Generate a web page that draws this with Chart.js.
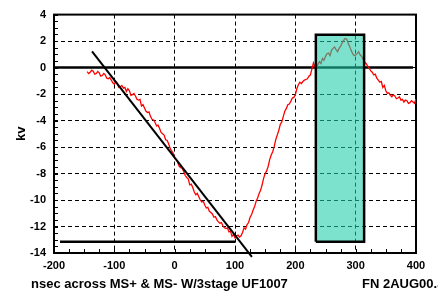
<!DOCTYPE html>
<html>
<head>
<meta charset="utf-8">
<script src="https://cdn.jsdelivr.net/npm/chart.js@4.4.1/dist/chart.umd.min.js"></script>
<style>
  html, body { margin: 0; padding: 0; background: #fff; }
  #wrap { width: 438px; height: 291px; }
</style>
</head>
<body>
<div id="wrap"><canvas id="kvChart" width="438" height="291"></canvas></div>
<script>
// waveform (nsec, kV)
var nsec = [
  -145,-142.5,-140,-137.5,-135,-132.5,-130,-127.5,-125,-122.5,-120,-117.5,-115,-112.5,-110,-107.5,-105,-102.5,-100,-97.5,
  -95,-92.5,-90,-87.5,-85,-82.5,-80,-77.5,-75,-72.5,-70,-67.5,-65,-62.5,-60,-57.5,-55,-52.5,-50,-47.5,
  -45,-42.5,-40,-37.5,-35,-32.5,-30,-27.5,-25,-22.5,-20,-17.5,-15,-12.5,-10,-7.5,-5,-2.5,0,2.5,
  5,7.5,10,12.5,15,17.5,20,22.5,25,27.5,30,32.5,35,37.5,40,42.5,45,47.5,50,52.5,
  55,57.5,60,62.5,65,67.5,70,72.5,75,77.5,80,82.5,85,87.5,90,92.5,95,97.5,100,102.5,
  105,107.5,110,112.5,115,117.5,120,122.5,125,127.5,130,132.5,135,137.5,140,142.5,145,147.5,150,152.5,
  155,157.5,160,162.5,165,167.5,170,172.5,175,177.5,180,182.5,185,187.5,190,192.5,195,197.5,200,202.5,
  205,207.5,210,212.5,215,217.5,220,222.5,225,227.5,230,232.5,235,237.5,240,242.5,245,247.5,250,252.5,
  255,257.5,260,262.5,265,267.5,270,272.5,275,277.5,280,282.5,285,287.5,290,292.5,295,297.5,300,302.5,
  305,307.5,310,312.5,315,317.5,320,322.5,325,327.5,330,332.5,335,337.5,340,342.5,345,347.5,350,352.5,
  355,357.5,360,362.5,365,367.5,370,372.5,375,377.5,380,382.5,385,387.5,390,392.5,395,397.5,400];
var kv = [
  -0.30,-0.45,-0.35,-0.20,-0.28,-0.50,-0.45,-0.30,-0.40,-0.65,-0.60,-0.45,-0.55,-0.80,-0.85,-0.75,-0.95,-1.15,-1.25,-1.05,
  -1.20,-1.50,-1.45,-1.35,-1.55,-1.50,-1.80,-1.60,-1.75,-2.10,-2.05,-1.95,-2.15,-2.40,-2.45,-2.40,-2.90,-2.80,-3.05,-3.30,
  -3.40,-3.35,-3.70,-3.90,-3.95,-4.15,-4.40,-4.35,-4.60,-4.90,-5.00,-5.10,-5.45,-5.50,-5.75,-6.10,-6.30,-6.45,-6.85,-6.95,
  -7.15,-7.45,-7.55,-7.60,-7.85,-8.15,-8.30,-8.40,-8.85,-8.80,-9.05,-9.40,-9.60,-9.50,-9.75,-10.00,-10.15,-10.10,-10.40,-10.60,
  -10.55,-10.85,-10.95,-11.05,-11.30,-11.25,-11.50,-11.65,-11.75,-11.70,-11.95,-12.10,-12.15,-12.10,-12.40,-12.35,-12.75,-12.60,-12.85,-12.70,
  -12.65,-12.80,-12.70,-12.45,-12.10,-12.20,-11.85,-11.70,-11.30,-11.10,-10.75,-10.50,-10.10,-9.85,-9.50,-9.25,-8.85,-8.35,-8.00,-7.80,
  -7.45,-6.95,-6.60,-6.35,-5.95,-5.45,-5.10,-4.75,-4.30,-4.10,-3.70,-3.30,-3.10,-2.80,-2.75,-2.55,-2.30,-2.25,-2.05,-1.60,
  -1.30,-1.10,-1.20,-1.05,-0.95,-0.90,-0.85,-0.65,-0.55,-0.10,0.35,0.05,-0.05,0.25,0.45,0.30,0.70,0.55,0.85,1.05,
  1.10,0.90,1.30,1.45,1.55,1.35,1.20,1.45,1.60,1.85,2.05,2.20,2.15,1.85,1.60,1.30,1.05,0.90,0.95,1.05,
  1.20,0.95,0.85,0.60,0.40,0.30,0.10,-0.05,-0.25,-0.35,-0.55,-0.50,-0.80,-0.95,-1.10,-1.05,-1.50,-1.35,-1.75,-1.95,
  -1.90,-2.10,-2.20,-2.05,-2.15,-2.35,-2.30,-2.20,-2.45,-2.40,-2.60,-2.45,-2.50,-2.70,-2.65,-2.50,-2.60,-2.70,-2.35];

// reference lines and the shaded window
var zeroLineX = [-200, 395];
var zeroLineY = [0, 0];
var fitLineX = [-137, 128];
var fitLineY = [1.22, -14.3];
var floorLineX = [-190, 100];
var floorLineY = [-13.15, -13.15];
var boxX = [234, 234, 314, 314, 234];
var boxY = [-13.15, 2.48, 2.48, -13.15, -13.15];

var xTicks = [-200, -100, 0, 100, 200, 300, 400];
var yTicks = [-14, -12, -10, -8, -6, -4, -2, 0, 2, 4];

function pts(xs, ys) {
  return xs.map(function (x, i) { return { x: x, y: ys[i] }; });
}

var FONT = "'Liberation Sans', Arial, sans-serif";

// inward minor ticks, frame and the bottom captions
var decor = {
  id: 'decor',
  beforeDatasetsDraw: function (chart) {
    var ctx = chart.ctx, a = chart.chartArea;
    var xs = chart.scales.x, ys = chart.scales.y;
    ctx.save();
    ctx.strokeStyle = '#000';
    ctx.lineWidth = 1;
    ctx.beginPath();
    for (var v = -14; v <= 4; v += 0.5) {
      var py = Math.round(ys.getPixelForValue(v)) + 0.5;
      ctx.moveTo(a.left, py); ctx.lineTo(a.left + 4, py);
    }
    for (var u = -200; u <= 400; u += 25) {
      var px = Math.round(xs.getPixelForValue(u)) + 0.5;
      ctx.moveTo(px, a.bottom); ctx.lineTo(px, a.bottom - 4);
    }
    ctx.stroke();
    ctx.lineWidth = 2;
    ctx.strokeRect(a.left, a.top, a.right - a.left, a.bottom - a.top);
    ctx.restore();
  },
  afterDraw: function (chart) {
    var ctx = chart.ctx;
    ctx.save();
    ctx.fillStyle = '#000';
    ctx.font = 'bold 13px ' + FONT;
    ctx.textBaseline = 'middle';
    ctx.textAlign = 'left';
    ctx.fillText('nsec across MS+ & MS- W/3stage UF1007', 31, 284);
    ctx.fillText('FN 2AUG00.J', 362, 284);
    ctx.restore();
  }
};

var ctxK = document.getElementById('kvChart').getContext('2d');
var kvChart = new Chart(ctxK, {
  type: 'line',
  data: {
    datasets: [
      {
        data: pts(zeroLineX, zeroLineY),
        borderColor: '#000', borderWidth: 2.5, pointRadius: 0, order: 4
      },
      {
        data: pts(nsec, kv),
        borderColor: '#ff0000', borderWidth: 1.3, pointRadius: 0, tension: 0, order: 3
      },
      {
        data: pts(boxX, boxY),
        borderColor: '#000', borderWidth: 2.5, pointRadius: 0,
        backgroundColor: 'rgba(30,205,170,0.58)', fill: 'shape', order: 1
      },
      {
        data: pts(fitLineX, fitLineY),
        borderColor: '#000', borderWidth: 2, pointRadius: 0, clip: false, order: 0
      },
      {
        data: pts(floorLineX, floorLineY),
        borderColor: '#000', borderWidth: 2.5, pointRadius: 0, order: 0
      }
    ]
  },
  options: {
    responsive: false,
    animation: false,
    events: [],
    layout: { padding: { top: 13, right: 22, bottom: 0, left: 0 } },
    plugins: { legend: { display: false }, tooltip: { enabled: false } },
    scales: {
      x: {
        type: 'linear', min: -200, max: 400,
        afterBuildTicks: function (s) { s.ticks = xTicks.map(function (v) { return { value: v }; }); },
        afterFit: function (s) { s.height = 38; },
        grid: { color: '#000', lineWidth: 1, drawTicks: false },
        border: { display: false, dash: [4, 3] },
        ticks: { color: '#000', padding: 6, maxRotation: 0, font: { family: FONT, size: 11, weight: 'bold' } }
      },
      y: {
        min: -14, max: 4,
        afterBuildTicks: function (s) { s.ticks = yTicks.map(function (v) { return { value: v }; }); },
        afterFit: function (s) { s.width = 54; },
        grid: { color: '#000', lineWidth: 1, drawTicks: false },
        border: { display: false, dash: [4, 3] },
        ticks: { color: '#000', padding: 8, font: { family: FONT, size: 11, weight: 'bold' } },
        title: { display: true, text: 'kv', color: '#000', padding: { top: 14, bottom: 0 },
          font: { family: FONT, size: 13, weight: 'bold' } }
      }
    }
  },
  plugins: [decor]
});
</script>
</body>
</html>
